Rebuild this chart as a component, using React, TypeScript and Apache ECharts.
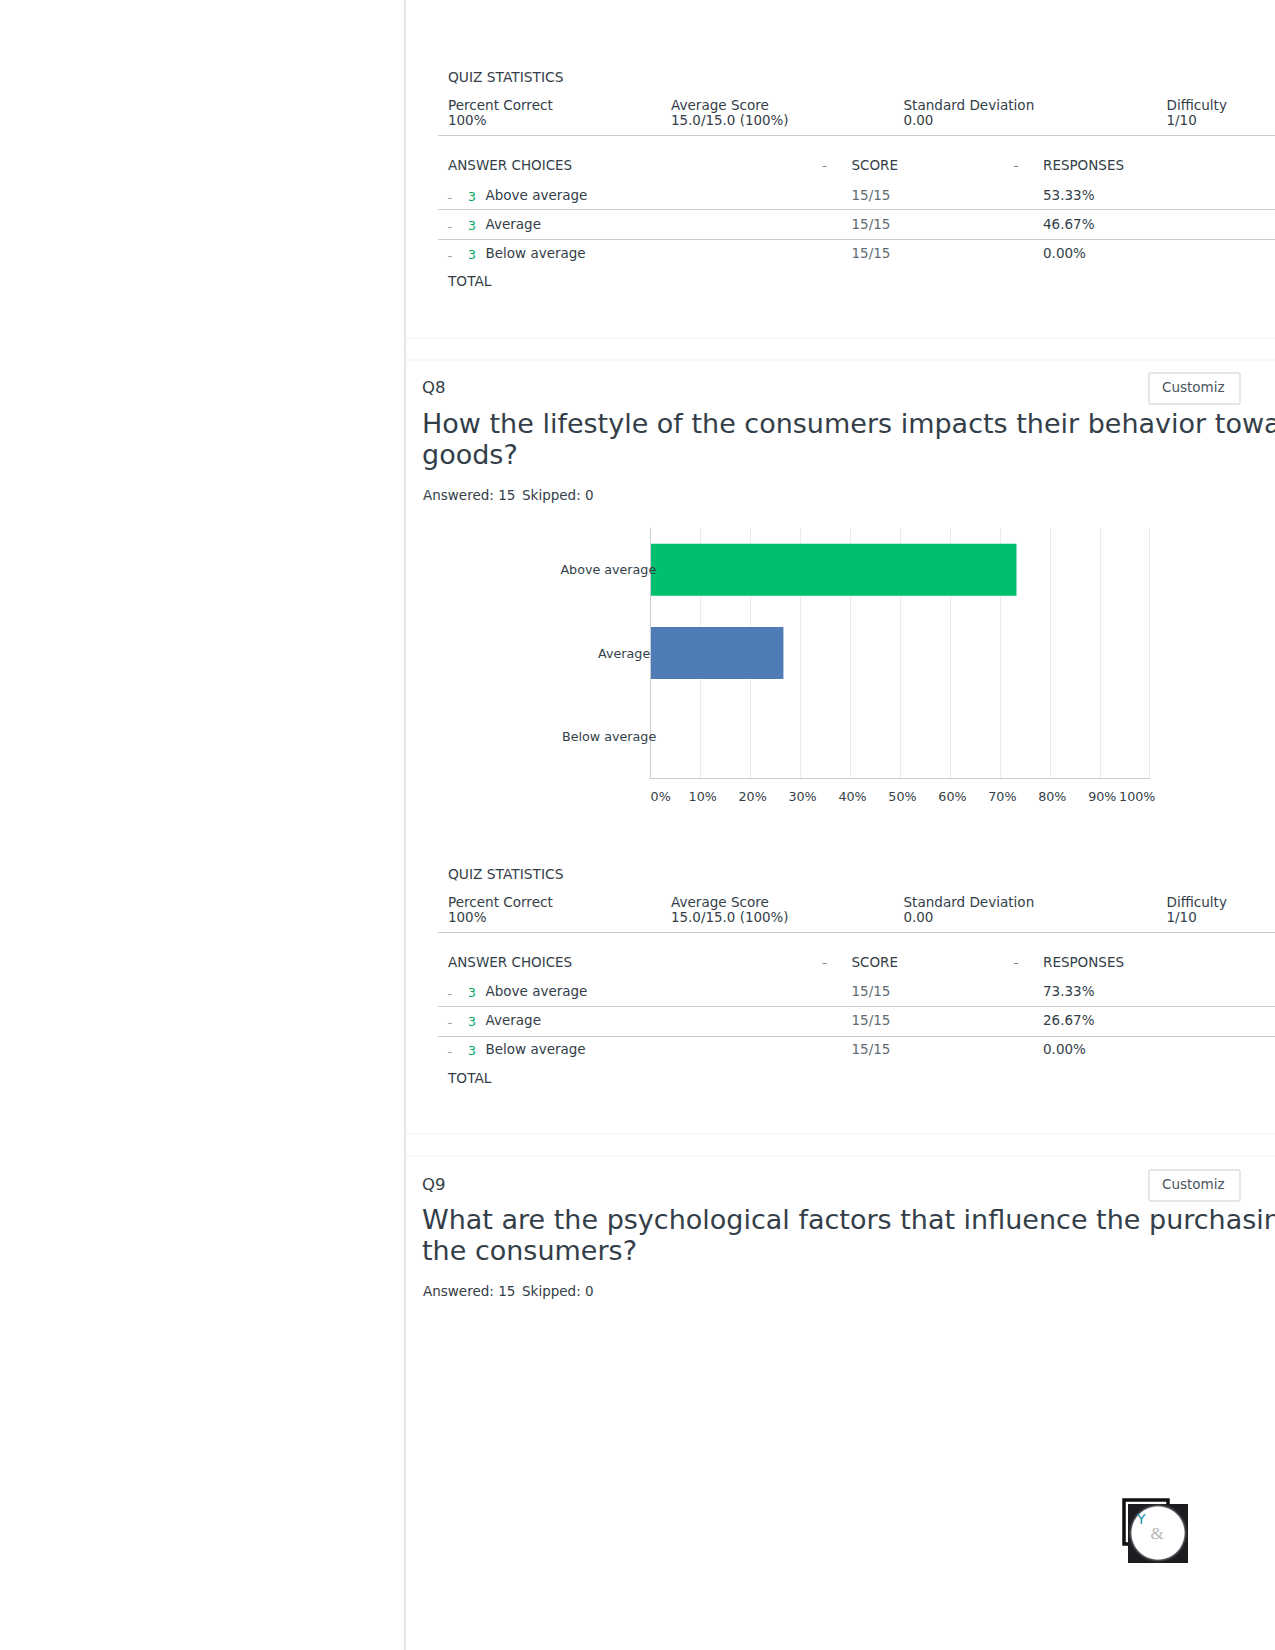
import React, { useEffect, useRef } from "react";
import * as echarts from "echarts";

const categories = ["Above average", "Average", "Below average"];
const chartValues = [73.33, 26.67, 0];
const barColors = ["#00BF6F", "#507CB6", "#507CB6"];
const firstTablePercent = ["53.33%", "46.67%", "0.00%"];
const secondTablePercent = ["73.33%", "26.67%", "0.00%"];
const scoreLabel = "15/15";
const statHeads = ["Percent Correct", "Average Score", "Standard Deviation", "Difficulty"];
const statValues = ["100%", "15.0/15.0 (100%)", "0.00", "1/10"];
const q8Title = ["How the lifestyle of the consumers impacts their behavior towa", "goods?"];
const q9Title = ["What are the psychological factors that influence the purchasin", "the consumers?"];

const DARK = "#333E48";
const GREY = "#5F6B73";
const FONT = '"DejaVu Sans", sans-serif';

const txt = (text: string, x: number, y: number, size: number, fill = DARK, extra: any = {}) => ({
  type: "text",
  x,
  y,
  silent: true,
  style: { text, fill, font: `${size}px ${FONT}`, verticalAlign: "middle", align: "left", ...extra },
});
const hline = (y: number, x1: number, stroke = "#C9CDD0") => ({
  type: "line",
  silent: true,
  shape: { x1, y1: y, x2: 1275, y2: y },
  style: { stroke, lineWidth: 1 },
});

const statsBlock = (dy: number, percents: string[]) => {
  const rowY = [195, 224, 253];
  const statX = [448, 671, 903.5, 1166.5];
  const out: any[] = [txt("QUIZ STATISTICS", 448, 77 + dy, 13.8)];
  statHeads.forEach((h, i) => out.push(txt(h, statX[i], 104.8 + dy, 13.55)));
  statValues.forEach((v, i) => out.push(txt(v, statX[i], 120.8 + dy, 13.45)));
  out.push(hline(135.5 + dy, 438));
  out.push(txt("ANSWER CHOICES", 448, 165 + dy, 13.5));
  out.push(txt("–", 822, 165.5 + dy, 10, GREY));
  out.push(txt("SCORE", 851.5, 165 + dy, 13.5));
  out.push(txt("–", 1013.5, 165.5 + dy, 10, GREY));
  out.push(txt("RESPONSES", 1043, 165 + dy, 13.5));
  categories.forEach((c, i) => {
    const y = rowY[i] + dy - (dy ? 0.8 : 0);
    out.push(txt("–", 447.5, y + 3, 9, GREY));
    out.push(txt("3", 468, y + 1, 12.5, "#00A86B"));
    out.push(txt(c, 485.5, y, 13.5));
    out.push(txt(scoreLabel, 851.5, y, 13.5, GREY));
    out.push(txt(percents[i], 1043, y, 13.5));
  });
  out.push(hline(209.5 + dy, 438));
  out.push(hline(239.5 + dy, 438));
  out.push(txt("TOTAL", 448, 281 + dy, 13.7));
  return out;
};

const questionBlock = (dy: number, q: string, title: string[], adj: number) => [
  txt(q, 422, 387 + dy, 16.5),
  {
    type: "rect",
    silent: true,
    shape: { x: 1149, y: 373 + dy, width: 91, height: 31, r: 1 },
    style: { fill: "#fff", stroke: "#C9CDD0", lineWidth: 1 },
  },
  txt("Customiz", 1162, 387 + dy, 13.5, "#4A555D"),
  txt(title[0], 422, 423.2 + dy + adj, 27),
  txt(title[1], 422, 454.3 + dy + adj, 27),
  txt("Answered: 15", 423, 495 + dy + adj * 2, 13.5),
  txt("Skipped: 0", 522, 495 + dy + adj * 2, 13.5),
];

export default function App() {
  const ref = useRef<HTMLDivElement>(null);
  useEffect(() => {
    document.body.style.margin = "0";
    document.body.style.overflow = "hidden";
    const chart = echarts.init(ref.current!, null, { renderer: "svg" });
    chart.setOption({
      animation: false,
      backgroundColor: "#fff",
      grid: { left: 650.2, top: 528, width: 499.5, height: 250, containLabel: false },
      xAxis: {
        type: "value",
        min: 0,
        max: 100,
        interval: 10,
        axisLine: { show: true, lineStyle: { color: "#C9CDD0" } },
        axisTick: { show: false },
        splitLine: { show: true, lineStyle: { color: "#EAEBEC" } },
        axisLabel: {
          margin: 12,
          hideOverlap: false,
          color: DARK,
          fontFamily: FONT,
          fontSize: 12.7,
          formatter: (v: number) => (v === 0 ? `{a|${v}%}` : v === 100 ? `{c|${v}%}` : `{b|${v}%}`),
          rich: {
            a: { padding: [0, 0, 0, 21], color: DARK, fontFamily: FONT, fontSize: 12.7 },
            b: { padding: [0, 0, 0, 5], color: DARK, fontFamily: FONT, fontSize: 12.7 },
            c: { padding: [0, 25, 0, 0], color: DARK, fontFamily: FONT, fontSize: 12.7 },
          },
        },
      },
      yAxis: {
        type: "category",
        inverse: true,
        z: 5,
        data: categories.map((c) => ({
          value: c,
          textStyle: c === "Average" ? { padding: [0, 6, 2, 0] } : { padding: [0, 0, 2, 0] },
        })),
        axisLine: { show: true, lineStyle: { color: "#C9CDD0" } },
        axisTick: { show: false },
        axisLabel: { margin: -6, color: DARK, fontFamily: FONT, fontSize: 12.7 },
      },
      series: [
        {
          type: "bar",
          barWidth: 52,
          silent: true,
          data: chartValues.map((value, i) => ({ value, itemStyle: { color: barColors[i] } })),
        },
      ],
      graphic: {
        elements: [
          { type: "line", silent: true, shape: { x1: 405, y1: 0, x2: 405, y2: 1650 }, style: { stroke: "#C9CDD0", lineWidth: 1 } },
          hline(338, 406, "#F0F1F1"),
          hline(360, 406, "#F0F1F1"),
          hline(1134, 406, "#F0F1F1"),
          hline(1156, 406, "#F0F1F1"),
          ...statsBlock(0, firstTablePercent),
          ...statsBlock(797, secondTablePercent),
          ...questionBlock(0, "Q8", q8Title, 0),
          ...questionBlock(797, "Q9", q9Title, -0.5),
          {
            type: "rect",
            silent: true,
            shape: { x: 1124, y: 1500, width: 44, height: 44 },
            style: { fill: "#fff", stroke: "#111", lineWidth: 3.5 },
          },
          {
            type: "rect",
            silent: true,
            shape: { x: 1128, y: 1504, width: 60, height: 59 },
            style: { fill: "#1A1C20" },
          },
          {
            type: "circle",
            silent: true,
            shape: { cx: 1158, cy: 1533, r: 26.5 },
            style: { fill: "#fff", shadowBlur: 3, shadowColor: "rgba(255,255,255,0.9)" },
          },
          txt("Y", 1137, 1518.5, 14, "#1B8DB0"),
          txt("&", 1150.5, 1533, 16, "#B5B5B5", { font: '17px "Liberation Serif", serif' }),
        ],
      },
    });
    return () => chart.dispose();
  }, []);
  return <div ref={ref} style={{ width: 1275, height: 1650 }} />;
}
